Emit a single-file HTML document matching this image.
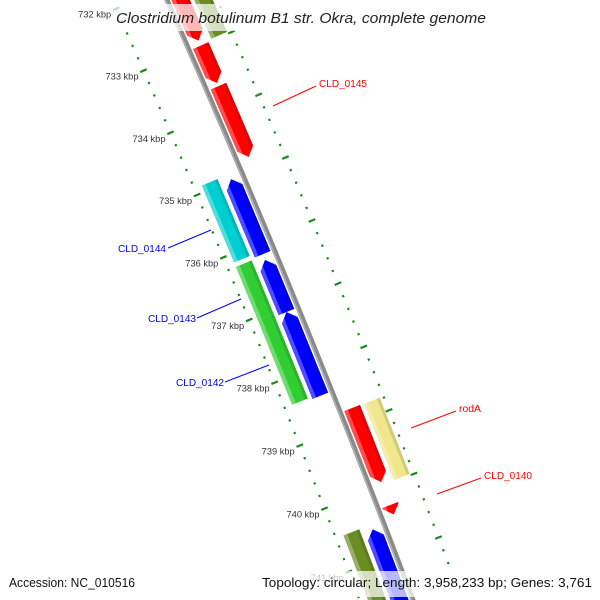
<!DOCTYPE html>
<html><head><meta charset="utf-8">
<style>
html,body{margin:0;padding:0;background:#fff;width:600px;height:600px;overflow:hidden;}
svg{display:block;overflow:hidden;}
text{font-family:"Liberation Sans","DejaVu Sans",sans-serif;}
</style></head>
<body>
<svg id="map" width="600" height="600" viewBox="0 0 600 600" xmlns="http://www.w3.org/2000/svg">
<g id="ticks"></g>
<g id="backbone"></g>
<g id="features"></g>
<g>
 <line x1="273" y1="106" x2="316" y2="86" stroke="#f00" stroke-width="1"/>
 <text x="319" y="87" font-size="10" fill="#f00" textLength="48" lengthAdjust="spacingAndGlyphs">CLD_0145</text>
 <line x1="411" y1="428" x2="456" y2="411" stroke="#f00" stroke-width="1"/>
 <text x="459" y="412" font-size="10" fill="#f00" textLength="22" lengthAdjust="spacingAndGlyphs">rodA</text>
 <line x1="437" y1="494" x2="481" y2="478" stroke="#f00" stroke-width="1"/>
 <text x="484" y="479" font-size="10" fill="#f00" textLength="48" lengthAdjust="spacingAndGlyphs">CLD_0140</text>
 <line x1="168" y1="248" x2="211" y2="230" stroke="#00f" stroke-width="1"/>
 <text x="118" y="252" font-size="10" fill="#00f" textLength="48" lengthAdjust="spacingAndGlyphs">CLD_0144</text>
 <line x1="197" y1="318" x2="241" y2="299" stroke="#00f" stroke-width="1"/>
 <text x="148" y="322" font-size="10" fill="#00f" textLength="48" lengthAdjust="spacingAndGlyphs">CLD_0143</text>
 <line x1="225" y1="382" x2="269" y2="365" stroke="#00f" stroke-width="1"/>
 <text x="176" y="386" font-size="10" fill="#00f" textLength="48" lengthAdjust="spacingAndGlyphs">CLD_0142</text>
</g>
<rect x="112" y="4" width="378" height="27" fill="#fff" fill-opacity="0.72"/>
<text x="116" y="23" font-size="15" font-style="italic" fill="#222" textLength="370" lengthAdjust="spacingAndGlyphs">Clostridium botulinum B1 str. Okra, complete genome</text>
<rect x="4" y="571" width="138" height="26" fill="#fff" fill-opacity="0.72"/>
<text x="9" y="587" font-size="13" fill="#111" textLength="126" lengthAdjust="spacingAndGlyphs">Accession: NC_010516</text>
<rect x="257" y="571" width="340" height="26" fill="#fff" fill-opacity="0.72"/>
<text x="262" y="587" font-size="13" fill="#111" textLength="330" lengthAdjust="spacingAndGlyphs">Topology: circular; Length: 3,958,233 bp; Genes: 3,761</text>
</svg>
<script>
// feature data (kbp)
const featStart  = [731.5, 733.0, 733.65, 731.5, 734.98, 734.9, 736.27, 737.1, 736.2, 737.05, 738.77, 738.78, 740.3, 740.47, 740.54];
const featEnd    = [732.92, 733.6, 734.78, 732.97, 736.18, 736.13, 737.1, 738.43, 737.05, 738.4, 739.94, 739.98, 740.45, 742.0, 742.0];
const featStrand = [1, 1, 1, 0, -1, 0, -1, -1, 0, 0, 1, 0, 1, 0, -1];
const featTrack  = [1, 1, 1, 2, -1, -2, -1, -1, -2, -2, 1, 2, 1, -2, -1];
const featColor  = ["#ff0000","#ff0000","#ff0000","#6b8e23","#0000ff","#00ced1","#0000ff","#0000ff","#32cd32","#32cd32","#ff0000","#f0e68c","#ff0000","#6b8e23","#0000ff"];
const featName   = ["gene-red-a","gene-red-b","gene-cld-0145","gene-olive-top","gene-blue-a","gene-cld-0144","gene-blue-b","gene-blue-c","gene-cld-0143","gene-cld-0142","gene-roda","gene-khaki","gene-cld-0140","gene-olive-bottom","gene-blue-bottom"];
const tickLabels = [732, 733, 734, 735, 736, 737, 738, 739, 740, 741];

const P1=[167,0],P2=[295,300],P3=[413,600];
function circ(a,b,c){
  const d=2*(a[0]*(b[1]-c[1])+b[0]*(c[1]-a[1])+c[0]*(a[1]-b[1]));
  const s=p=>p[0]*p[0]+p[1]*p[1];
  const ux=(s(a)*(b[1]-c[1])+s(b)*(c[1]-a[1])+s(c)*(a[1]-b[1]))/d;
  const uy=(s(a)*(c[0]-b[0])+s(b)*(a[0]-c[0])+s(c)*(b[0]-a[0]))/d;
  return [ux,uy,Math.hypot(a[0]-ux,a[1]-uy)];
}
const [CX,CY,R]=circ(P1,P2,P3);
const PXKB=68;
const th733=Math.atan2(70-CY,145-CX);
function ang(k){return th733+(k-733)*PXKB/R;}
function pt(k,o){const t=ang(k);return [CX+(R+o)*Math.cos(t),CY+(R+o)*Math.sin(t)];}
const NS="http://www.w3.org/2000/svg";
function mk(tag,parent){const e=document.createElementNS(NS,tag);parent.appendChild(e);return e;}

const bb=document.getElementById('backbone');
{
  let d="";for(let k=731;k<=742;k+=0.1){const p=pt(k,0);d+=(d?"L":"M")+p[0].toFixed(2)+" "+p[1].toFixed(2);}
  const a=mk('path',bb);a.setAttribute('d',d);a.setAttribute('stroke','#8a8a8a');a.setAttribute('stroke-width','5');a.setAttribute('fill','none');
  
  
  let d2="";for(let k=731;k<=742;k+=0.1){const p=pt(k,-1.5);d2+=(d2?"L":"M")+p[0].toFixed(2)+" "+p[1].toFixed(2);}
  const b=mk('path',bb);b.setAttribute('d',d2);b.setAttribute('stroke','#b5b5b5');b.setAttribute('stroke-width','1.2');b.setAttribute('fill','none');
  
  
}

const tg=document.getElementById('ticks');
const TICK_IN=-50, TICK_OUT=46;
for(let i=0;i<=48;i++){
  const k=731.8+i*0.2; const major=Math.abs(k-Math.round(k))<0.01;
  [TICK_IN,TICK_OUT].forEach(o=>{
    const len=major?7:2.2;
    const a=pt(k,o-len/2),b=pt(k,o+len/2);
    const l=mk('line',tg);
    l.setAttribute('x1',a[0]);l.setAttribute('y1',a[1]);l.setAttribute('x2',b[0]);l.setAttribute('y2',b[1]);
    l.setAttribute('stroke','#1a8a1a');l.setAttribute('stroke-width','2.2');
    
    
  });
}
tickLabels.forEach(k=>{
  const p=pt(k,TICK_IN);
  const t=mk('text',tg);
  t.setAttribute('x',(p[0]-5).toFixed(1));t.setAttribute('y',(p[1]+9).toFixed(1));
  t.setAttribute('text-anchor','end');t.setAttribute('font-size','9');t.setAttribute('fill','#333');
  t.setAttribute('textLength','33');t.setAttribute('lengthAdjust','spacingAndGlyphs');
  t.textContent=k+" kbp";
  
  
});

const fg=document.getElementById('features');
const TRK={1:[4,21],2:[25,42],'-1':[-21,-4],'-2':[-42,-25]};
const HEAD=9/PXKB;
featStart.forEach((s,i)=>{
  const e=featEnd[i],[o1,o2]=TRK[featTrack[i]],st=featStrand[i],om=(o1+o2)/2;
  const pts=[];
  if(st===1){
    const h=Math.max(s,e-HEAD);
    pts.push(pt(s,o1),pt(h,o1),pt(e,om),pt(h,o2),pt(s,o2));
  }else if(st===-1){
    const h=Math.min(e,s+HEAD);
    pts.push(pt(s,om),pt(h,o1),pt(e,o1),pt(e,o2),pt(h,o2));
  }else{
    pts.push(pt(s,o1),pt(e,o1),pt(e,o2),pt(s,o2));
  }
  const g=mk('g',fg);
  
  
  const p=mk('polygon',g);
  p.setAttribute('points',pts.map(q=>q[0].toFixed(2)+","+q[1].toFixed(2)).join(" "));
  p.setAttribute('fill',featColor[i]);
  const hs = st===-1? Math.min(e,s+HEAD*0.6): s;
  const he = st===1? Math.max(s,e-HEAD*0.6): e;
  if(he>hs){
    const sp=[pt(hs,o1),pt(he,o1),pt(he,o1+4),pt(hs,o1+4)];
    const q=mk('polygon',g);
    q.setAttribute('points',sp.map(v=>v[0].toFixed(2)+","+v[1].toFixed(2)).join(" "));
    q.setAttribute('fill','#fff');q.setAttribute('fill-opacity','0.3');
    const sd=[pt(hs,o2-3),pt(he,o2-3),pt(he,o2),pt(hs,o2)];
    const q2=mk('polygon',g);
    q2.setAttribute('points',sd.map(v=>v[0].toFixed(2)+","+v[1].toFixed(2)).join(" "));
    q2.setAttribute('fill','#000');q2.setAttribute('fill-opacity','0.12');
  }
});
</script>
</body></html>
